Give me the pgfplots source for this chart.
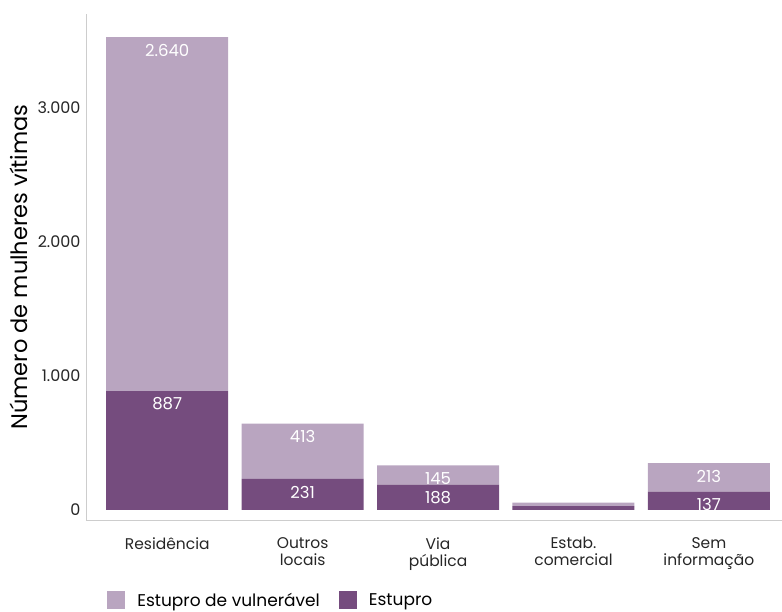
\documentclass[border=0pt]{standalone}
\usepackage{pgfplots}
\pgfplotsset{compat=1.18}
\usepackage{fontspec}
\setmainfont{Poppins}
\definecolor{lightp}{RGB}{185,165,192}
\definecolor{darkp}{RGB}{117,76,126}
\definecolor{axgray}{RGB}{205,205,205}
\begin{document}
\begin{tikzpicture}
\path[use as bounding box] (-86pt,-92pt) rectangle (696pt,520pt);
\begin{axis}[
  scale only axis,
  width=696pt, height=506pt,
  ybar stacked,
  bar width=122pt,
  xmin=-0.6, xmax=4.54,
  ymin=-75, ymax=3700,
  axis x line*=bottom, axis y line*=left,
  axis line style={axgray, line width=0.8pt, -},
  major tick length=0pt,
  xtick={0,1,2,3,4},
  xticklabels={Residência, Outros\\locais, Via\\pública, Estab.\\comercial, Sem\\informação},
  xticklabel style={align=center, font=\fontsize{15.5}{17}\selectfont, text=black!85, yshift=-14pt},
  ytick={0,1000,2000,3000},
  yticklabel style={font=\fontsize{16}{18}\selectfont, text=black!85, xshift=-2pt},
  /pgf/number format/assume math mode=true,
  /pgf/number format/1000 sep={.},
  ylabel={Número de mulheres vítimas},
  ylabel style={at={(axis description cs:-0.097,0.5)}, anchor=center, font=\fontsize{22.5}{24}\selectfont},
  point meta=explicit symbolic,
  visualization depends on=rawy \as \rawy,
  nodes near coords,
  every node near coord/.append style={anchor=center, yshift={\rawy*0.06702pt-13pt}, text=white, font=\fontsize{16.5}{18}\selectfont},
  legend style={at={(axis description cs:0.026,-0.159)}, anchor=west, draw=none, fill=none,
    legend columns=-1, font=\fontsize{17}{18}\selectfont,
    /tikz/every odd column/.append style={column sep=10pt}},
  legend image code/.code={\fill[#1] (0pt,-9pt) rectangle (18pt,9pt);},
  reverse legend,
]
\addplot[fill=darkp, draw=none] coordinates {(0,887) [887] (1,231) [231] (2,188) [188] (3,28) [\relax] (4,137) [137]};
\addplot[fill=lightp, draw=none] coordinates {(0,2640) [2.640] (1,413) [413] (2,145) [145] (3,27) [\relax] (4,213) [213]};
\legend{Estupro, Estupro de vulnerável\rule{17pt}{0pt}}
\end{axis}
\end{tikzpicture}
\end{document}
